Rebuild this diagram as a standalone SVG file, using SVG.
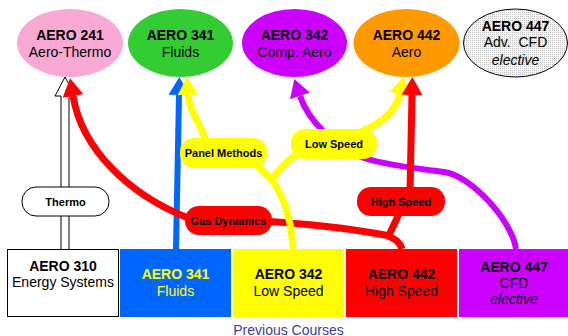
<svg xmlns="http://www.w3.org/2000/svg" width="568" height="336" viewBox="0 0 568 336">
<style>
text{font-family:"Liberation Sans",Arial,Helvetica,sans-serif;text-anchor:middle;fill:#000}
.t{font-size:14px}
.b{font-weight:bold}
.i{font-style:italic}
.lbl{font-size:11px;font-weight:bold}
.ln{fill:none;stroke-linecap:butt}
.red{stroke:#FF0000;stroke-width:7}
.yel{stroke:#FFFF00;stroke-width:7}
.pur{stroke:#CC00FF;stroke-width:6}
.blu{stroke:#0066FF;stroke-width:6}
</style>
<defs>
<pattern id="dots" width="2" height="2" patternUnits="userSpaceOnUse">
<rect width="2" height="2" fill="#F6F6F6"/>
<rect width="1" height="1" fill="#C4C4C4"/>
</pattern>
<marker id="mr" viewBox="0 0 18 21" refX="0" refY="10.5" markerWidth="18" markerHeight="21" markerUnits="userSpaceOnUse" orient="auto"><path d="M0,0L18,10.5L0,21z" fill="#FF0000"/></marker>
<marker id="my" viewBox="0 0 18 21" refX="0" refY="10.5" markerWidth="18" markerHeight="21" markerUnits="userSpaceOnUse" orient="auto"><path d="M0,0L18,10.5L0,21z" fill="#FFFF00"/></marker>
<marker id="mp" viewBox="0 0 18 21" refX="0" refY="10.5" markerWidth="18" markerHeight="21" markerUnits="userSpaceOnUse" orient="auto"><path d="M0,0L18,10.5L0,21z" fill="#CC00FF"/></marker>
<marker id="mb" viewBox="0 0 18 21" refX="0" refY="10.5" markerWidth="18" markerHeight="21" markerUnits="userSpaceOnUse" orient="auto"><path d="M0,0L18,10.5L0,21z" fill="#0066FF"/></marker>
</defs>

<g id="top-courses">
<g id="n-aero241"><ellipse cx="70" cy="43" rx="53" ry="34" fill="#F9AAD4"/><text class="t b" x="70" y="40">AERO 241</text><text class="t" x="70" y="57">Aero-Thermo</text></g>
<g id="n-aero341-top"><ellipse cx="180.5" cy="43" rx="52.5" ry="34" fill="#33CC33"/><text class="t b" x="180.5" y="40">AERO 341</text><text class="t" x="180.5" y="57">Fluids</text></g>
<g id="n-aero342-top"><ellipse cx="294.5" cy="43" rx="52.5" ry="34" fill="#CC00FF"/><text class="t b" x="294.5" y="40">AERO 342</text><text class="t" x="294.5" y="57">Comp. Aero</text></g>
<g id="n-aero442-top"><ellipse cx="406.5" cy="43" rx="53" ry="34" fill="#FF9900"/><text class="t b" x="406.5" y="40">AERO 442</text><text class="t" x="406.5" y="57">Aero</text></g>
<g id="n-aero447-top"><ellipse cx="515.5" cy="43" rx="52" ry="34" fill="url(#dots)" stroke="#000" stroke-width="1"/><text class="t b" x="515.5" y="31">AERO 447</text><text class="t" x="515.5" y="47" xml:space="preserve">Adv.  CFD</text><text class="t i" x="515.5" y="65">elective</text></g>
</g>

<g id="connectors">
<path id="c-thermo" d="M61,249 L61,96 L55,96 L65,77 L75,96 L69,96 L69,249" fill="#FFFFFF" stroke="#000" stroke-width="1"/>
<path id="c-purple" class="ln pur" d="M516,249 C512,220 470,175 444,172 C420,169 385,165 364,158 C335,148 308,120 300,96" marker-end="url(#mp)"/>
<path id="c-blue" class="ln blu" d="M176,249 L179,95" marker-end="url(#mb)"/>
<path id="c-gas-right" class="ln red" d="M402,249 Q399,239 385,235 Q330,225 260,221"/>
<path id="c-gas-left" class="ln red" d="M200,220 L188,218 C130,195 82,150 73,96" marker-end="url(#mr)"/>
<path id="c-yel-trunk" class="ln yel" d="M293,249 C291,215 283,195 272,180 L252,160"/>
<path id="c-yel-low" class="ln yel" d="M271,181 Q284,162 300,152"/>
<path id="c-yel-panel" class="ln yel" d="M207,145 C204,128 189,112 188,95" marker-end="url(#my)"/>
<path id="c-yel-442" class="ln yel" d="M350,136 C380,126 396,112 400,94" marker-end="url(#my)"/>
<path id="c-high-down" class="ln red" d="M400,212 L388,237"/>
<path id="c-high-up" class="ln red" d="M410,192 L412,95" marker-end="url(#mr)"/>
</g>

<g id="labels">
<g id="l-thermo"><rect x="22" y="187" width="87" height="29" rx="14" fill="#FFFFFF" stroke="#000" stroke-width="1"/><text class="lbl" x="65.5" y="205.5">Thermo</text></g>
<g id="l-panel"><rect x="180" y="138" width="87" height="30" rx="14" fill="#FFFF00"/><text class="lbl" x="223.5" y="157">Panel Methods</text></g>
<g id="l-low"><rect x="291" y="129" width="86" height="30" rx="14" fill="#FFFF00"/><text class="lbl" x="334" y="148">Low Speed</text></g>
<g id="l-gas"><rect x="185" y="206" width="87" height="29" rx="14" fill="#FF0000"/><text class="lbl" x="228.5" y="224.5">Gas Dynamics</text></g>
<g id="l-high"><rect x="357" y="187" width="88" height="29" rx="14" fill="#FF0000"/><text class="lbl" x="401" y="205.5">High Speed</text></g>
</g>

<g id="previous-courses">
<g id="n-aero310"><rect x="7.5" y="249.5" width="111" height="67" fill="#FFFFFF" stroke="#000" stroke-width="1"/><text class="t b" x="63" y="271">AERO 310</text><text class="t" x="63" y="287">Energy Systems</text></g>
<g id="n-aero341"><rect x="120" y="249" width="111" height="68" fill="#0066FF"/><text class="t b" x="175.5" y="279" style="fill:#FFFF00">AERO 341</text><text class="t" x="175.5" y="296" style="fill:#FFFF00">Fluids</text></g>
<g id="n-aero342"><rect x="233" y="249" width="111" height="68" fill="#FFFF00"/><text class="t b" x="288.5" y="279">AERO 342</text><text class="t" x="288.5" y="296">Low Speed</text></g>
<g id="n-aero442"><rect x="346" y="249" width="111" height="68" fill="#FF0000"/><text class="t b" x="401.5" y="279">AERO 442</text><text class="t" x="401.5" y="296">High Speed</text></g>
<g id="n-aero447"><rect x="459" y="249" width="111" height="68" fill="#CC00FF"/><text class="t b" x="514" y="271.5">AERO 447</text><text class="t" x="514" y="287.5">CFD</text><text class="t i" x="514" y="304">elective</text></g>
<text x="288.5" y="334.5" class="t" style="fill:#3C3CA8">Previous Courses</text>
</g>
</svg>
